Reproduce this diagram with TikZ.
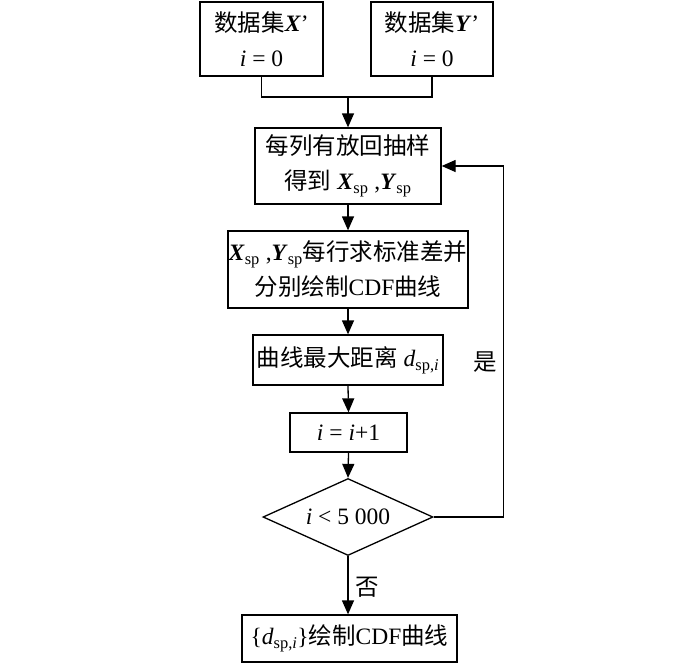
\documentclass[tikz,border=0pt]{standalone}
\usepackage{fontspec}
\setmainfont{Liberation Serif}
\newfontfamily\cjk{Noto Sans CJK SC}
\usetikzlibrary{shapes.geometric,arrows.meta}
\newcommand{\bi}[1]{\textbf{\textit{#1}}}
\begin{document}
\begin{tikzpicture}[x=1pt,y=-1pt,
  every node/.style={font=\fontsize{23.5}{35}\selectfont},
  box/.style={draw,line width=1.3pt,rectangle,inner sep=0pt,align=center},
  dec/.style={draw,line width=1.3pt,diamond,aspect=2.2,inner sep=0pt,align=center},
  line/.style={line width=1.3pt},
  arr/.style={line width=1.3pt,-{Triangle[length=14pt,width=12pt]}},
  lbl/.style={inner sep=0pt}]
\useasboundingbox (0,0) rectangle (700,670);
\node[box,minimum width=123pt,minimum height=74pt] (xb) at (261.5,39) {{\cjk 数据集}\bi{X}’\\ \textit{i} = 0};
\node[box,minimum width=122pt,minimum height=74pt] (yb) at (432,39) {{\cjk 数据集}\bi{Y}’\\ \textit{i} = 0};
\node[box,minimum width=186pt,minimum height=76pt] (b2) at (348,166) {{\cjk 每列有放回抽样}\\{\cjk 得到} \bi{X}\textsubscript{sp} ,\bi{Y}\textsubscript{sp}};
\node[box,minimum width=240pt,minimum height=77pt] (b3) at (348,269.5) {\bi{X}\textsubscript{sp} ,\bi{Y}\textsubscript{sp}{\cjk 每行求标准差并}\\{\cjk 分别绘制}CDF{\cjk 曲线}};
\node[box,minimum width=190pt,minimum height=50pt] (b4) at (348,360) {{\cjk 曲线最大距离} \textit{d}\textsubscript{sp,\textit{i}}};
\node[box,minimum width=117pt,minimum height=39pt] (b5) at (348.5,432.5) {\textit{i} = \textit{i}+1};
\node[dec,minimum width=170pt,minimum height=77pt] (dia) at (348,517) {\textit{i} < 5 000};
\node[box,minimum width=215pt,minimum height=47pt] (b6) at (349.5,638.5) {\{\textit{d}\textsubscript{sp,\textit{i}}\}{\cjk 绘制}CDF{\cjk 曲线}};
\node[lbl] (yes) at (485,362) {\cjk 是};
\node[lbl] (no) at (367,587) {\cjk 否};
\coordinate (j) at (348,97);
\draw[line] (xb.south) |- (j);
\draw[line] (yb.south) |- (j);
\draw[arr] (j) -- (b2.north);
\draw[arr] (b2.south) -- (b3.north);
\draw[arr] (b3.south) -- (b4.north);
\draw[arr] (b4.south) -- (b5.north);
\draw[arr] (b5.south) -- (dia.north);
\draw[arr] (dia.south) -- (b6.north -| dia.south);
\draw[arr] (dia.east) -- ++(70,0) |- (b2.east);
\end{tikzpicture}
\end{document}
